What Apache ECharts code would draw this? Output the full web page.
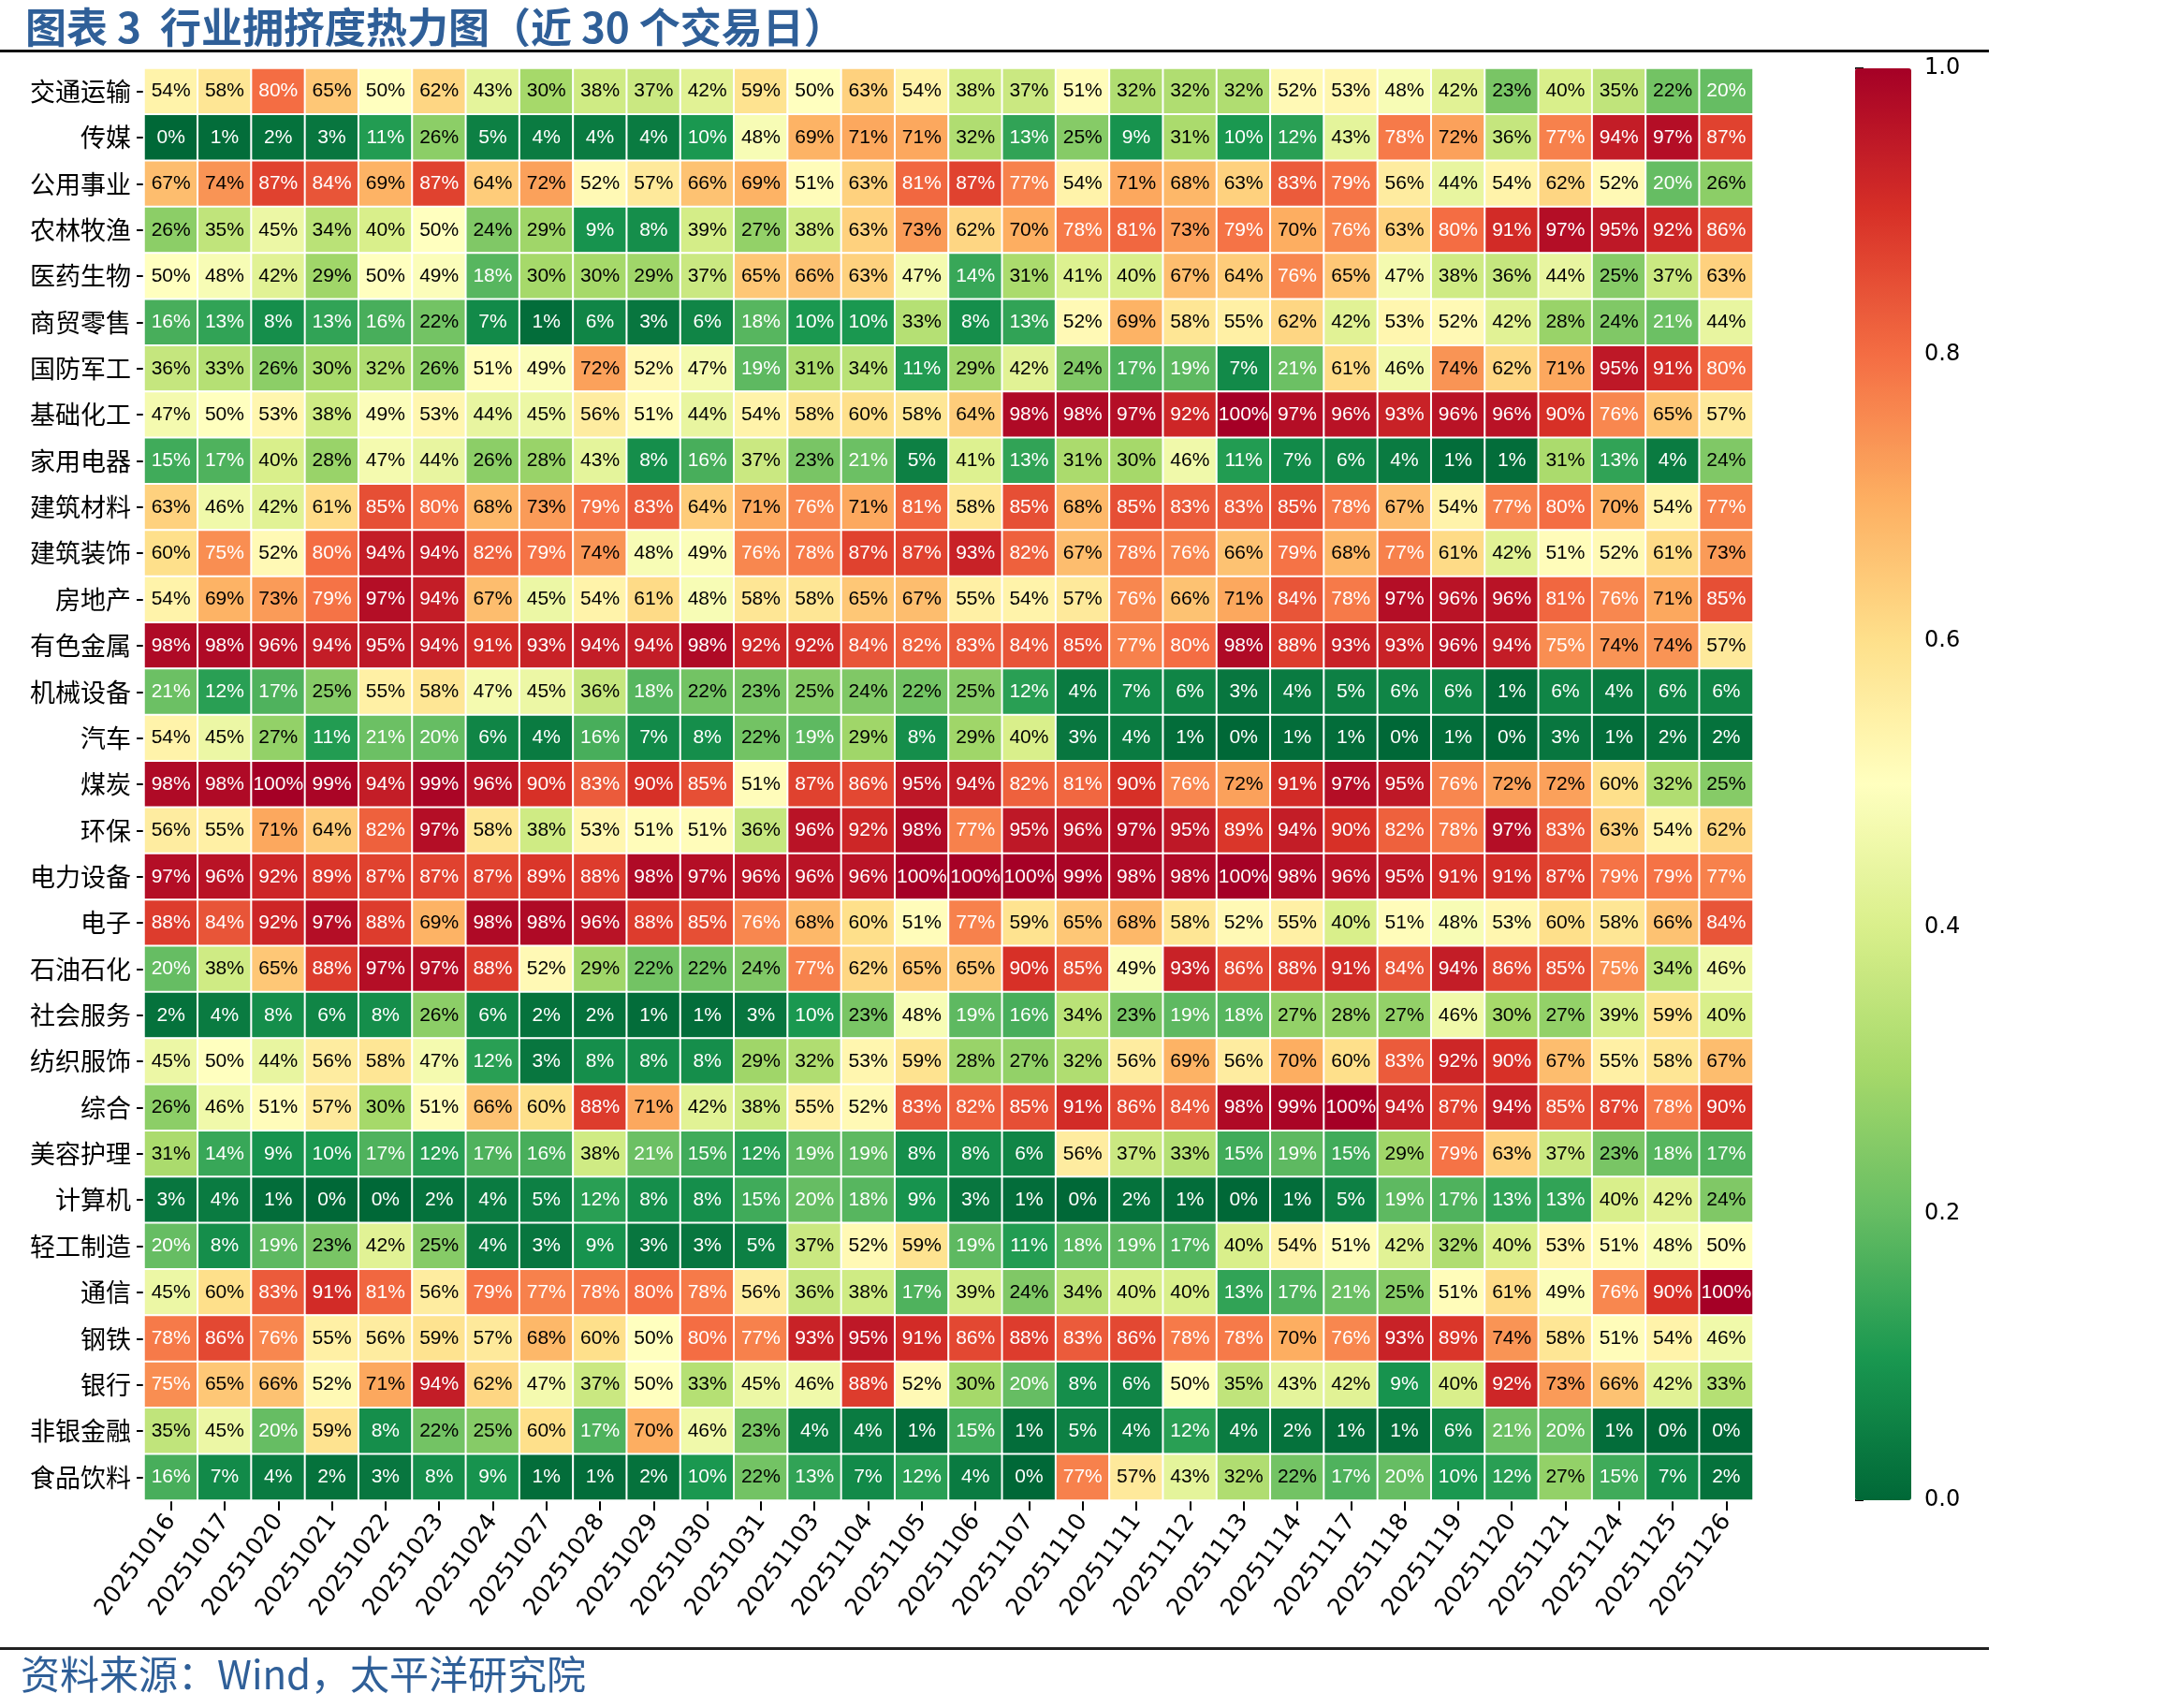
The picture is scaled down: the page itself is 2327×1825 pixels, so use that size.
<!DOCTYPE html>
<html>
<head>
<meta charset="utf-8">
<title>行业拥挤度热力图</title>
<script src="https://cdn.jsdelivr.net/npm/echarts@6/dist/echarts.min.js"></script>
<style>
  html, body { margin: 0; padding: 0; background: #fff; }
  #chart { width: 2327px; height: 1825px; }
</style>
</head>
<body>
<div id="chart"></div>
<script>
// 交易日
const dates = ['20251016', '20251017', '20251020', '20251021', '20251022', '20251023', '20251024', '20251027', '20251028', '20251029',
  '20251030', '20251031', '20251103', '20251104', '20251105', '20251106', '20251107', '20251110', '20251111', '20251112',
  '20251113', '20251114', '20251117', '20251118', '20251119', '20251120', '20251121', '20251124', '20251125', '20251126'];

// 行业（从上到下）
const industries = ['交通运输', '传媒', '公用事业', '农林牧渔', '医药生物', '商贸零售', '国防军工', '基础化工', '家用电器', '建筑材料',
  '建筑装饰', '房地产', '有色金属', '机械设备', '汽车', '煤炭', '环保', '电力设备', '电子', '石油石化',
  '社会服务', '纺织服饰', '综合', '美容护理', '计算机', '轻工制造', '通信', '钢铁', '银行', '非银金融', '食品饮料'];

// 拥挤度（%），每行对应一个行业
const crowding = [
  [54, 58, 80, 65, 50, 62, 43, 30, 38, 37, 42, 59, 50, 63, 54, 38, 37, 51, 32, 32, 32, 52, 53, 48, 42, 23, 40, 35, 22, 20],
  [0, 1, 2, 3, 11, 26, 5, 4, 4, 4, 10, 48, 69, 71, 71, 32, 13, 25, 9, 31, 10, 12, 43, 78, 72, 36, 77, 94, 97, 87],
  [67, 74, 87, 84, 69, 87, 64, 72, 52, 57, 66, 69, 51, 63, 81, 87, 77, 54, 71, 68, 63, 83, 79, 56, 44, 54, 62, 52, 20, 26],
  [26, 35, 45, 34, 40, 50, 24, 29, 9, 8, 39, 27, 38, 63, 73, 62, 70, 78, 81, 73, 79, 70, 76, 63, 80, 91, 97, 95, 92, 86],
  [50, 48, 42, 29, 50, 49, 18, 30, 30, 29, 37, 65, 66, 63, 47, 14, 31, 41, 40, 67, 64, 76, 65, 47, 38, 36, 44, 25, 37, 63],
  [16, 13, 8, 13, 16, 22, 7, 1, 6, 3, 6, 18, 10, 10, 33, 8, 13, 52, 69, 58, 55, 62, 42, 53, 52, 42, 28, 24, 21, 44],
  [36, 33, 26, 30, 32, 26, 51, 49, 72, 52, 47, 19, 31, 34, 11, 29, 42, 24, 17, 19, 7, 21, 61, 46, 74, 62, 71, 95, 91, 80],
  [47, 50, 53, 38, 49, 53, 44, 45, 56, 51, 44, 54, 58, 60, 58, 64, 98, 98, 97, 92, 100, 97, 96, 93, 96, 96, 90, 76, 65, 57],
  [15, 17, 40, 28, 47, 44, 26, 28, 43, 8, 16, 37, 23, 21, 5, 41, 13, 31, 30, 46, 11, 7, 6, 4, 1, 1, 31, 13, 4, 24],
  [63, 46, 42, 61, 85, 80, 68, 73, 79, 83, 64, 71, 76, 71, 81, 58, 85, 68, 85, 83, 83, 85, 78, 67, 54, 77, 80, 70, 54, 77],
  [60, 75, 52, 80, 94, 94, 82, 79, 74, 48, 49, 76, 78, 87, 87, 93, 82, 67, 78, 76, 66, 79, 68, 77, 61, 42, 51, 52, 61, 73],
  [54, 69, 73, 79, 97, 94, 67, 45, 54, 61, 48, 58, 58, 65, 67, 55, 54, 57, 76, 66, 71, 84, 78, 97, 96, 96, 81, 76, 71, 85],
  [98, 98, 96, 94, 95, 94, 91, 93, 94, 94, 98, 92, 92, 84, 82, 83, 84, 85, 77, 80, 98, 88, 93, 93, 96, 94, 75, 74, 74, 57],
  [21, 12, 17, 25, 55, 58, 47, 45, 36, 18, 22, 23, 25, 24, 22, 25, 12, 4, 7, 6, 3, 4, 5, 6, 6, 1, 6, 4, 6, 6],
  [54, 45, 27, 11, 21, 20, 6, 4, 16, 7, 8, 22, 19, 29, 8, 29, 40, 3, 4, 1, 0, 1, 1, 0, 1, 0, 3, 1, 2, 2],
  [98, 98, 100, 99, 94, 99, 96, 90, 83, 90, 85, 51, 87, 86, 95, 94, 82, 81, 90, 76, 72, 91, 97, 95, 76, 72, 72, 60, 32, 25],
  [56, 55, 71, 64, 82, 97, 58, 38, 53, 51, 51, 36, 96, 92, 98, 77, 95, 96, 97, 95, 89, 94, 90, 82, 78, 97, 83, 63, 54, 62],
  [97, 96, 92, 89, 87, 87, 87, 89, 88, 98, 97, 96, 96, 96, 100, 100, 100, 99, 98, 98, 100, 98, 96, 95, 91, 91, 87, 79, 79, 77],
  [88, 84, 92, 97, 88, 69, 98, 98, 96, 88, 85, 76, 68, 60, 51, 77, 59, 65, 68, 58, 52, 55, 40, 51, 48, 53, 60, 58, 66, 84],
  [20, 38, 65, 88, 97, 97, 88, 52, 29, 22, 22, 24, 77, 62, 65, 65, 90, 85, 49, 93, 86, 88, 91, 84, 94, 86, 85, 75, 34, 46],
  [2, 4, 8, 6, 8, 26, 6, 2, 2, 1, 1, 3, 10, 23, 48, 19, 16, 34, 23, 19, 18, 27, 28, 27, 46, 30, 27, 39, 59, 40],
  [45, 50, 44, 56, 58, 47, 12, 3, 8, 8, 8, 29, 32, 53, 59, 28, 27, 32, 56, 69, 56, 70, 60, 83, 92, 90, 67, 55, 58, 67],
  [26, 46, 51, 57, 30, 51, 66, 60, 88, 71, 42, 38, 55, 52, 83, 82, 85, 91, 86, 84, 98, 99, 100, 94, 87, 94, 85, 87, 78, 90],
  [31, 14, 9, 10, 17, 12, 17, 16, 38, 21, 15, 12, 19, 19, 8, 8, 6, 56, 37, 33, 15, 19, 15, 29, 79, 63, 37, 23, 18, 17],
  [3, 4, 1, 0, 0, 2, 4, 5, 12, 8, 8, 15, 20, 18, 9, 3, 1, 0, 2, 1, 0, 1, 5, 19, 17, 13, 13, 40, 42, 24],
  [20, 8, 19, 23, 42, 25, 4, 3, 9, 3, 3, 5, 37, 52, 59, 19, 11, 18, 19, 17, 40, 54, 51, 42, 32, 40, 53, 51, 48, 50],
  [45, 60, 83, 91, 81, 56, 79, 77, 78, 80, 78, 56, 36, 38, 17, 39, 24, 34, 40, 40, 13, 17, 21, 25, 51, 61, 49, 76, 90, 100],
  [78, 86, 76, 55, 56, 59, 57, 68, 60, 50, 80, 77, 93, 95, 91, 86, 88, 83, 86, 78, 78, 70, 76, 93, 89, 74, 58, 51, 54, 46],
  [75, 65, 66, 52, 71, 94, 62, 47, 37, 50, 33, 45, 46, 88, 52, 30, 20, 8, 6, 50, 35, 43, 42, 9, 40, 92, 73, 66, 42, 33],
  [35, 45, 20, 59, 8, 22, 25, 60, 17, 70, 46, 23, 4, 4, 1, 15, 1, 5, 4, 12, 4, 2, 1, 1, 6, 21, 20, 1, 0, 0],
  [16, 7, 4, 2, 3, 8, 9, 1, 1, 2, 10, 22, 13, 7, 12, 4, 0, 77, 57, 43, 32, 22, 17, 20, 10, 12, 27, 15, 7, 2]
];

// 色条刻度
const colorbarTicks = [0, 0.2, 0.4, 0.6, 0.8, 1.0];

// RdYlGn 反向：0 绿 -> 1 红
const palette = ['#006837', '#1a9850', '#66bd63', '#a6d96a', '#d9ef8b', '#ffffbf',
  '#fee08b', '#fdae61', '#f46d43', '#d73027', '#a50026'];

const cellFont = '"Liberation Sans", Arial, sans-serif';
const cjkFont = '"Noto Sans CJK SC", sans-serif';

const heatData = [];
crowding.forEach((row, r) => {
  row.forEach((v, c) => {
    heatData.push({
      value: [c, r, v / 100],
      label: { color: (v <= 21 || v >= 75) ? '#fff' : '#000' }
    });
  });
});

const chart = echarts.init(document.getElementById('chart'));
chart.setOption({
  backgroundColor: '#fff',
  animation: false,
  title: {
    text: '图表 3  行业拥挤度热力图（近 30 个交易日）',
    left: 22,
    top: 2,
    textStyle: { fontFamily: cjkFont, fontSize: 44, fontWeight: 'bold', color: '#2f5f98' }
  },
  graphic: [
    { type: 'rect', shape: { x: 0, y: 53, width: 2125, height: 3 }, style: { fill: '#111' } },
    { type: 'rect', shape: { x: 0, y: 1760, width: 2125, height: 3 }, style: { fill: '#222' } },
    {
      type: 'text', left: 22, top: 1768,
      style: { text: '资料来源：Wind，太平洋研究院', font: '42px "Noto Sans CJK SC"', fill: '#2f5f98' }
    }
  ],
  grid: [
    { left: 154, top: 73, width: 1719, height: 1530 },
    { left: 1982, top: 73, width: 60, height: 1530 }
  ],
  xAxis: [
    {
      type: 'category',
      gridIndex: 0,
      data: dates,
      axisLine: { show: false },
      axisTick: { show: true, alignWithLabel: true, length: 11, lineStyle: { color: '#000', width: 2 } },
      axisLabel: { rotate: 54, fontSize: 25, color: '#000', fontFamily: '"DejaVu Sans", sans-serif', margin: 18, interval: 0 },
      splitArea: { show: false }
    },
    { type: 'value', gridIndex: 1, show: false, min: 0, max: 1 }
  ],
  yAxis: [
    {
      type: 'category',
      gridIndex: 0,
      inverse: true,
      data: industries,
      axisLine: { show: false },
      axisTick: { show: true, alignWithLabel: true, length: 8, lineStyle: { color: '#000', width: 2 } },
      axisLabel: { fontSize: 27, color: '#000', fontFamily: cjkFont, margin: 14, interval: 0 }
    },
    {
      type: 'value',
      gridIndex: 1,
      position: 'right',
      min: colorbarTicks[0],
      max: colorbarTicks[colorbarTicks.length - 1],
      interval: 0.2,
      splitLine: { show: false },
      axisLine: { show: false },
      axisTick: { show: true, length: 9, lineStyle: { color: '#000', width: 2 } },
      axisLabel: {
        fontSize: 24, color: '#000', fontFamily: '"DejaVu Sans", sans-serif', margin: 14,
        formatter: (v) => v.toFixed(1)
      }
    }
  ],
  visualMap: {
    type: 'continuous',
    min: 0,
    max: 1,
    seriesIndex: 0,
    calculable: false,
    orient: 'vertical',
    left: 1982,
    top: 73,
    padding: 0,
    itemWidth: 60,
    itemHeight: 1530,
    text: null,
    inRange: { color: palette }
  },
  series: [{
    type: 'heatmap',
    xAxisIndex: 0,
    yAxisIndex: 0,
    data: heatData,
    itemStyle: { borderColor: '#fff', borderWidth: 2 },
    label: {
      show: true,
      fontSize: 21,
      fontFamily: cellFont,
      formatter: (p) => Math.round(p.value[2] * 100) + '%'
    },
    emphasis: { disabled: true }
  }]
});
</script>
</body>
</html>
